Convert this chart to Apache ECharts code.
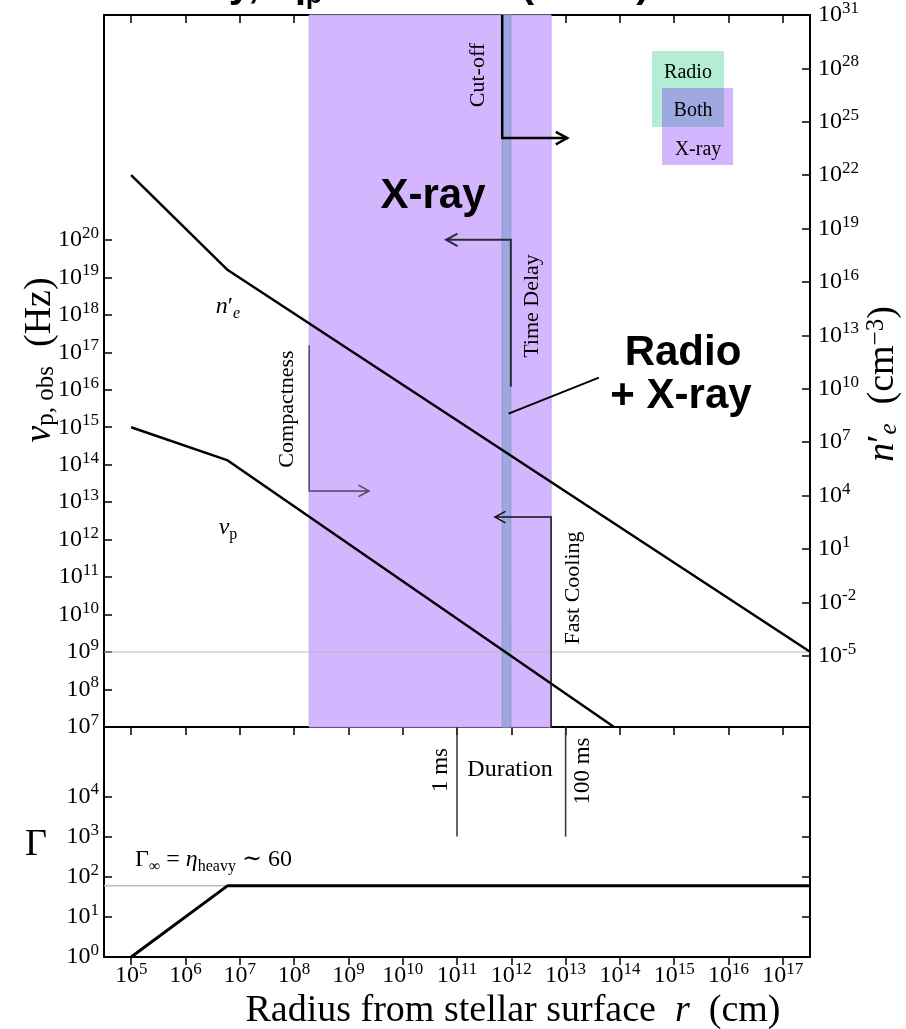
<!DOCTYPE html>
<html>
<head>
<meta charset="utf-8">
<script src="https://cdn.jsdelivr.net/npm/echarts@6.0.0/dist/echarts.min.js"></script>
<style>
html,body{margin:0;padding:0;background:#fff;}
#chart{width:906px;height:1029px;}
</style>
</head>
<body>
<div id="chart"></div>
<script>
// ---------- tick exponents ----------
const xTickExp = [5,6,7,8,9,10,11,12,13,14,15,16,17];
const nuTickExp = [7,8,9,10,11,12,13,14,15,16,17,18,19,20];
const neTickExp = [-5,-2,1,4,7,10,13,16,19,22,25,28,31];
const gammaTickExp = [0,1,2,3,4];

// ---------- curves (r in cm) ----------
const nuR   = [1e5, 6e6, 7.8e13];
const nuVal = [1e15, 1.3e14, 1e7];          // nu_p,obs (Hz)
const neR   = [1e5, 6e6, 3.16e17];
const neVal = [1e22, 4.7e16, 1.7e-5];       // n'_e (cm^-3)
const gammaR   = [1e5, 6e6, 3.16e17];
const gammaVal = [1, 60, 60];               // Lorentz factor

// ---------- reference levels ----------
const radioNu = 1e9;
const gammaInf = 60;

// ---------- regions (r in cm) ----------
const xrayBand = [1.9e8, 5.4e12];
const bothBand = [6.8e11, 9.8e11];

// ---------- constraint paths [r, nu] ----------
const cutoffPath  = [[6.8e11, 1e26], [6.8e11, 5.2e22], [1.07e13, 5.2e22]];
const delayPath   = [[9.8e11, 1.2e16], [9.8e11, 1e20], [6.3e10, 1e20]];
const compactPath = [[1.9e8, 1.55e17], [1.9e8, 2e13], [2.4e9, 2e13]];
const coolingPath = [[5.4e12, 1e7], [5.4e12, 4e12], [5e11, 4e12]];
const pointerPath = [[8.9e11, 2.3e15], [4.1e13, 2.1e16]];
const durationR = [1e11, 1e13];
const durationGammaLow = 1e3;

// ---------- axis ranges (log10) ----------
const X0 = 4.5, X1 = 17.5;
const NU0 = 7, NU1 = 26;
const NE0 = -9, NE1 = 31;
const G0 = 0, G1 = 5.73;

const lg = Math.log10;
const SERIF = "'Liberation Serif','DejaVu Serif',serif";
const SANS = "'Liberation Sans',Arial,sans-serif";

const chart = echarts.init(document.getElementById('chart'), null, {renderer:'canvas'});

const tickRich = {
  b: {fontFamily: SERIF, fontSize: 24, color: '#000', lineHeight: 30},
  s: {fontFamily: SERIF, fontSize: 17, color: '#000', lineHeight: 17, verticalAlign: 'top'}
};
const fmt = v => '{b|10}{s|' + v + '}';

function xAx(grid, pos, showLabel, inside) {
  return {
    type: 'value', gridIndex: grid, position: pos, min: X0, max: X1,
    axisLine: {show: true, onZero: false, lineStyle: {color: '#000', width: 2}},
    axisTick: {show: true, inside: inside, length: 8, lineStyle: {color: '#000', width: 1.5}, customValues: xTickExp},
    axisLabel: {show: showLabel, customValues: xTickExp, formatter: fmt, rich: tickRich, margin: 4},
    splitLine: {show: false}
  };
}
function yAx(grid, pos, mn, mx, ticks, showLabel, margin) {
  return {
    type: 'value', gridIndex: grid, position: pos, min: mn, max: mx,
    axisLine: {show: true, onZero: false, lineStyle: {color: '#000', width: 2}},
    axisTick: {show: true, inside: true, length: 8, lineStyle: {color: '#000', width: 1.5}, customValues: ticks},
    axisLabel: {show: showLabel, customValues: ticks, formatter: fmt, rich: tickRich, margin: margin},
    splitLine: {show: false}
  };
}

const toXY = (rs, vs) => rs.map((r, i) => [lg(r), lg(vs[i])]);

const bands = [
  {r: xrayBand, color: '#D4B6FE', edge: '#C3A6EE'},
  {r: bothBand, color: '#9CA8DE', edge: '#8C98CE'}
];
const bandRender = (params, api) => {
  const b = bands[api.value(0)];
  const x0 = api.coord([lg(b.r[0]), NU0])[0];
  const x1 = api.coord([lg(b.r[1]), NU0])[0];
  const cs = params.coordSys;
  return {type: 'rect', shape: {x: x0, y: cs.y, width: x1 - x0, height: cs.height},
          style: {fill: b.color, stroke: b.edge, lineWidth: 1}};
};

const annos = [
  {path: cutoffPath,  color: '#000',    width: 2.5, arrow: 13},
  {path: delayPath,   color: '#2a2a38', width: 2,   arrow: 13},
  {path: compactPath, color: '#4a4a62', width: 1.5, arrow: 12},
  {path: coolingPath, color: '#111',    width: 1.5, arrow: 12},
  {path: pointerPath, color: '#000',    width: 2,   arrow: 0}
];
const annoRender = (params, api) => {
  const a = annos[api.value(0)];
  const pts = a.path.map(d => api.coord([lg(d[0]), lg(d[1])]));
  const ch = [{type: 'polyline', shape: {points: pts}, style: {stroke: a.color, lineWidth: a.width, fill: null}}];
  if (a.arrow) {
    const e = pts[pts.length - 1], s = pts[pts.length - 2];
    const ang = Math.atan2(e[1] - s[1], e[0] - s[0]);
    const w = 0.5, L = a.arrow;
    ch.push({type: 'polyline', shape: {points: [
      [e[0] - L * Math.cos(ang - w), e[1] - L * Math.sin(ang - w)], e,
      [e[0] - L * Math.cos(ang + w), e[1] - L * Math.sin(ang + w)]]},
      style: {stroke: a.color, lineWidth: a.width, fill: null}});
  }
  return {type: 'group', children: ch};
};
const durRender = (params, api) => {
  const r = durationR[api.value(0)];
  const p0 = api.coord([lg(r), lg(durationGammaLow)]);
  const p1 = api.coord([lg(r), G1]);
  return {type: 'line', shape: {x1: p0[0], y1: p0[1], x2: p1[0], y2: p1[1]}, style: {stroke: '#333', lineWidth: 1.5}};
};

function T(x, y, text, o) {
  o = o || {};
  return {
    type: 'text', x: x, y: y, rotation: o.rot || 0, z: 100,
    style: {
      text: text, fill: o.color || '#000',
      font: (o.style || '') + ' ' + (o.weight || 'normal') + ' ' + (o.size || 22) + 'px ' + (o.family || SERIF),
      align: o.align || 'center', verticalAlign: o.va || 'middle', rich: o.rich
    }
  };
}
const R90 = Math.PI / 2;

const richBig = {
  i: {fontFamily: SERIF, fontStyle: 'italic', fontSize: 38, lineHeight: 38},
  sub: {fontFamily: SERIF, fontSize: 25, lineHeight: 25, verticalAlign: 'bottom'},
  subi: {fontFamily: SERIF, fontStyle: 'italic', fontSize: 25, lineHeight: 25, verticalAlign: 'bottom'},
  r: {fontFamily: SERIF, fontSize: 38, lineHeight: 38},
  sup: {fontFamily: SERIF, fontSize: 25, lineHeight: 25, verticalAlign: 'top'}
};
const richSmall = {
  i: {fontFamily: SERIF, fontStyle: 'italic', fontSize: 24, lineHeight: 30},
  sub: {fontFamily: SERIF, fontStyle: 'italic', fontSize: 16, lineHeight: 16, verticalAlign: 'bottom'},
  subr: {fontFamily: SERIF, fontSize: 16, lineHeight: 16, verticalAlign: 'bottom'},
  r: {fontFamily: SERIF, fontSize: 24, lineHeight: 30}
};
const richTitle = {
  b: {fontFamily: SANS, fontWeight: 'bold', fontSize: 40, lineHeight: 46},
  sub: {fontFamily: SANS, fontWeight: 'bold', fontSize: 27, lineHeight: 27, verticalAlign: 'bottom'},
  sup: {fontFamily: SANS, fontWeight: 'bold', fontSize: 27, lineHeight: 27, verticalAlign: 'top'}
};

const graphics = [
  // cut title at top
  T(133, -14, '{b|Heavy,  η}{sub|p}{b| ~ 10 X10}{sup|4}{b| (clean)}', {rich: richTitle, align: 'left'}),
  // legend
  {type: 'rect', shape: {x: 652, y: 51, width: 72, height: 76}, style: {fill: '#B3EDD5'}, z: 90},
  {type: 'rect', shape: {x: 662, y: 88, width: 71, height: 77}, style: {fill: '#D4B6FE'}, z: 90},
  {type: 'rect', shape: {x: 662, y: 88, width: 62, height: 39}, style: {fill: '#9CA8DE'}, z: 91},
  T(688, 73, 'Radio', {size: 20}),
  T(693, 111, 'Both', {size: 20}),
  T(698, 150, 'X-ray', {size: 20}),
  // big labels
  T(433, 196, 'X-ray', {family: SANS, weight: 'bold', size: 42}),
  T(683, 353, 'Radio', {family: SANS, weight: 'bold', size: 42}),
  T(681, 396, '+ X-ray', {family: SANS, weight: 'bold', size: 42}),
  // constraint labels
  T(478, 75, 'Cut-off', {rot: R90, size: 22}),
  T(532, 306, 'Time Delay', {rot: R90, size: 22}),
  T(287, 409, 'Compactness', {rot: R90, size: 22}),
  T(573, 588, 'Fast Cooling', {rot: R90, size: 22}),
  // curve labels
  T(228, 307, '{i|n}{r|′}{sub|e}', {rich: richSmall}),
  T(228, 528, '{i|ν}{subr|p}', {rich: richSmall}),
  // duration
  T(510, 770, 'Duration', {size: 24}),
  T(441, 770, '1 ms', {rot: R90, size: 23}),
  T(583, 771, '100 ms', {rot: R90, size: 23}),
  // gamma inf
  T(135, 860, '{r|Γ}{subr|∞}{r| = }{i|η}{subr|heavy}{r| ∼ 60}', {rich: richSmall, align: 'left'}),
  // axis titles
  T(40, 360, '{i|ν}{sub|p, obs}{r|  (Hz)}', {rot: R90, rich: richBig}),
  T(883, 384, '{i|n}{r|′}{subi|e}{r|  (cm}{sup|−3}{r|)}', {rot: R90, rich: richBig}),
  T(36, 845, 'Γ', {size: 38}),
  T(513, 1011, '{r|Radius from stellar surface  }{i|r}{r|  (cm)}', {rich: richBig})
];

const option = {
  animation: false,
  backgroundColor: '#fff',
  grid: [
    {left: 104, top: 15, width: 706, height: 712},
    {left: 104, top: 727, width: 706, height: 230}
  ],
  xAxis: [
    xAx(0, 'bottom', false, false),
    xAx(0, 'top', false, true),
    xAx(1, 'bottom', true, false),
    xAx(1, 'top', false, true)
  ],
  yAxis: [
    yAx(0, 'left', NU0, NU1, nuTickExp, true, 5),
    yAx(0, 'right', NE0, NE1, neTickExp, true, 8),
    yAx(1, 'left', G0, G1, gammaTickExp, true, 5),
    yAx(1, 'right', G0, G1, gammaTickExp, false, 8)
  ],
  series: [
    {type: 'custom', name: 'bands', xAxisIndex: 0, yAxisIndex: 0, renderItem: bandRender,
     data: bands.map((b, i) => [i, NU0]), z: 1, silent: true},
    {type: 'line', name: 'radio', xAxisIndex: 0, yAxisIndex: 0, data: [[X0, lg(radioNu)], [X1, lg(radioNu)]],
     symbol: 'none', lineStyle: {color: '#bbb', width: 1}, z: 2, silent: true},
    {type: 'line', name: 'gammaInf', xAxisIndex: 2, yAxisIndex: 2, data: [[X0, lg(gammaInf)], [lg(gammaR[1]), lg(gammaInf)]],
     symbol: 'none', lineStyle: {color: '#bbb', width: 1.5}, z: 2, silent: true},
    {type: 'line', name: 'nu', xAxisIndex: 0, yAxisIndex: 0, data: toXY(nuR, nuVal),
     symbol: 'none', lineStyle: {color: '#000', width: 2.5}, z: 5},
    {type: 'line', name: 'ne', xAxisIndex: 0, yAxisIndex: 1, data: toXY(neR, neVal),
     symbol: 'none', lineStyle: {color: '#000', width: 2.5}, z: 5},
    {type: 'line', name: 'gamma', xAxisIndex: 2, yAxisIndex: 2, data: toXY(gammaR, gammaVal),
     symbol: 'none', lineStyle: {color: '#000', width: 3}, z: 5},
    {type: 'custom', name: 'annos', xAxisIndex: 0, yAxisIndex: 0, renderItem: annoRender,
     data: annos.map((a, i) => [i, NU0]), z: 6, silent: true},
    {type: 'custom', name: 'duration', xAxisIndex: 2, yAxisIndex: 2, renderItem: durRender,
     data: durationR.map((r, i) => [i, G0]), z: 6, silent: true}
  ],
  graphic: graphics
};
chart.setOption(option);
</script>
</body>
</html>
